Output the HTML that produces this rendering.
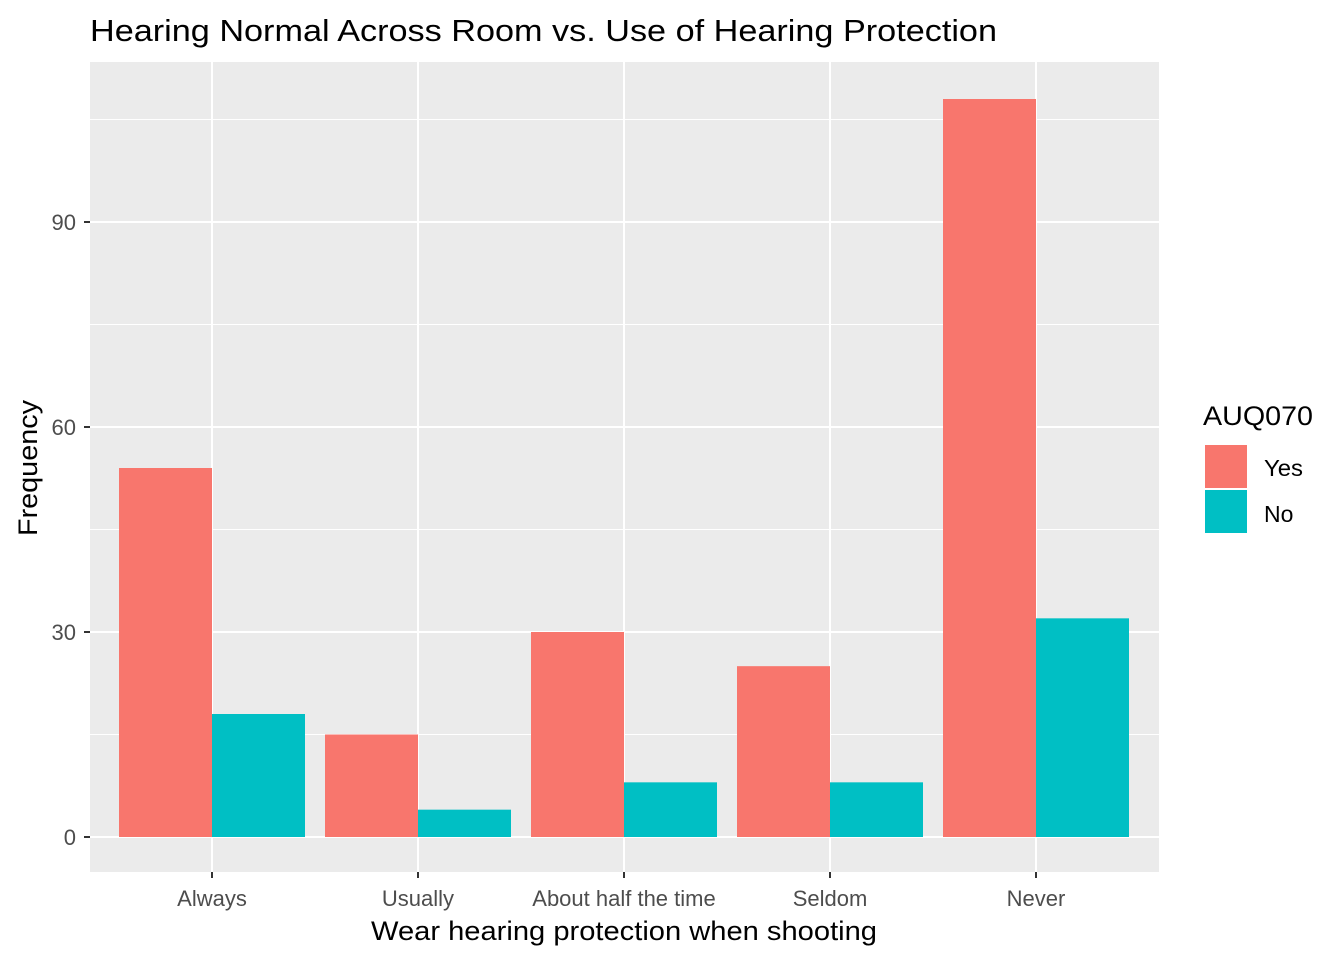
<!DOCTYPE html>
<html><head><meta charset="utf-8"><style>
body{margin:0;background:#fff;font-family:"Liberation Sans",Arial,sans-serif}
</style></head><body>
<svg id="chart" width="1344" height="960" xmlns="http://www.w3.org/2000/svg">
<text x="90" y="41" font-size="31" textLength="907" lengthAdjust="spacingAndGlyphs" fill="#000">Hearing Normal Across Room vs. Use of Hearing Protection</text>
<rect x="90" y="62" width="1069" height="810" fill="#EBEBEB"/>
<g id="grid"></g><g id="bars"></g><g id="axes"></g>
<text x="624" y="940" font-size="27" textLength="506" lengthAdjust="spacingAndGlyphs" text-anchor="middle">Wear hearing protection when shooting</text>
<text transform="translate(37,468) rotate(-90)" font-size="27" textLength="136" lengthAdjust="spacingAndGlyphs" text-anchor="middle">Frequency</text>
<g>
<text x="1203" y="425" font-size="27" textLength="110" lengthAdjust="spacingAndGlyphs">AUQ070</text>
<rect x="1205" y="445" width="42" height="43" fill="#F8766D"/>
<text x="1264" y="476" font-size="23" textLength="39" lengthAdjust="spacingAndGlyphs">Yes</text>
<rect x="1205" y="490" width="42" height="43" fill="#00BFC4"/>
<text x="1264" y="522" font-size="23">No</text>
</g>
</svg>
<script>
const categories=["Always","Usually","About half the time","Seldom","Never"];
const yesValues=[54,15,30,25,108];
const noValues=[18,4,8,8,32];
const yTicks=[0,30,60,90];
const yMinor=[15,45,75,105];
const NS="http://www.w3.org/2000/svg";
const y=v=>837-v*(615/90);
const x=i=>212+i*206;
const bw=93;
function mk(t,a,p){const e=document.createElementNS(NS,t);for(const k in a)e.setAttribute(k,a[k]);p.appendChild(e);return e;}
const g=document.getElementById('grid'),b=document.getElementById('bars'),ax=document.getElementById('axes');
yMinor.forEach(v=>{const l=mk('line',{x1:90,x2:1159,y1:y(v),y2:y(v),stroke:'#fff','stroke-width':1},g);

});
yTicks.forEach(v=>{const l=mk('line',{x1:90,x2:1159,y1:y(v),y2:y(v),stroke:'#fff','stroke-width':2},g);


const t=mk('line',{x1:84,x2:90,y1:y(v),y2:y(v),stroke:'#333','stroke-width':2},ax);


const tx=mk('text',{x:76,y:y(v)+8,'font-size':22,'text-anchor':'end',fill:'#4D4D4D'},ax);tx.textContent=v;

});
categories.forEach((c,i)=>{const l=mk('line',{x1:x(i),x2:x(i),y1:62,y2:872,stroke:'#fff','stroke-width':2},g);


const r1=mk('rect',{x:x(i)-bw,y:y(yesValues[i]),width:bw,height:y(0)-y(yesValues[i]),fill:'#F8766D'},b);


const r2=mk('rect',{x:x(i),y:y(noValues[i]),width:bw,height:y(0)-y(noValues[i]),fill:'#00BFC4'},b);


const t=mk('line',{x1:x(i),x2:x(i),y1:872,y2:878,stroke:'#333','stroke-width':2},ax);


const tx=mk('text',{x:x(i),y:906,'font-size':22,'text-anchor':'middle',fill:'#4D4D4D'},ax);tx.textContent=c;

});
</script>
</body></html>
